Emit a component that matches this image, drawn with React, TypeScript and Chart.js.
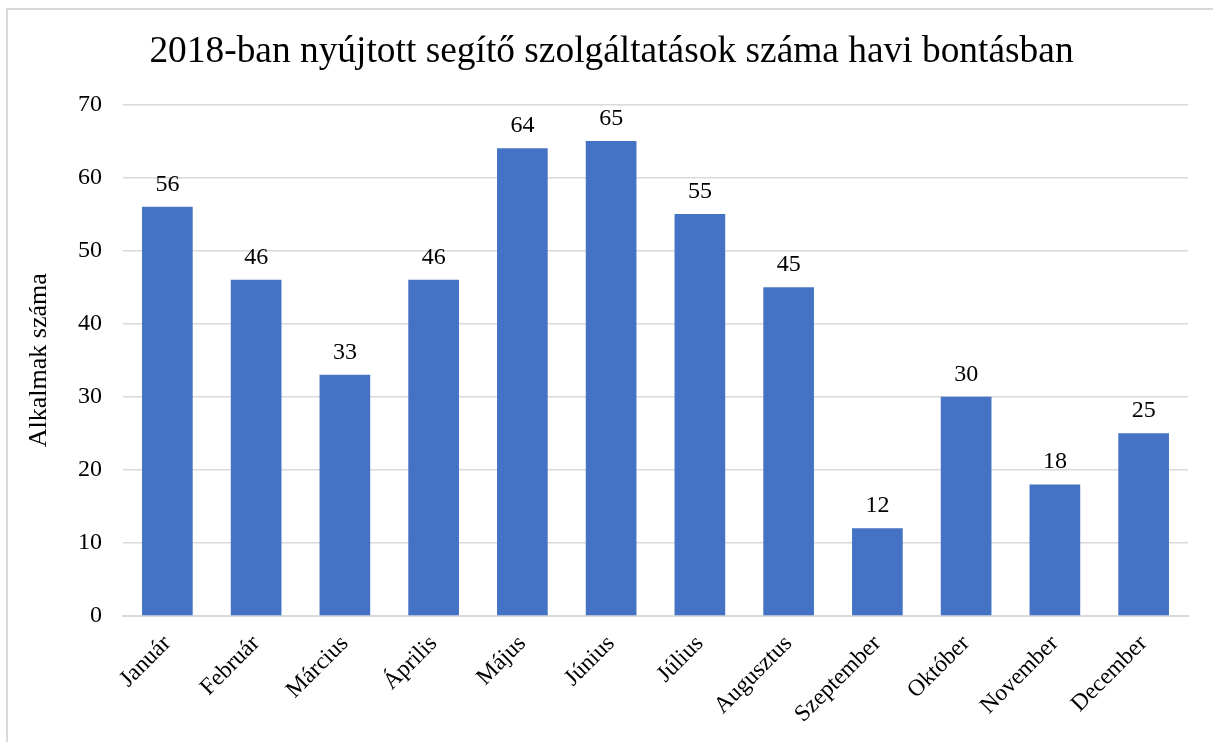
import React, { useEffect, useRef } from "react";
import { Chart, registerables } from "chart.js";

Chart.register(...registerables);

const TITLE = "2018-ban nyújtott segítő szolgáltatások száma havi bontásban";
const Y_TITLE = "Alkalmak száma";
const MONTHS = [
  "Január",
  "Február",
  "Március",
  "Április",
  "Május",
  "Június",
  "Július",
  "Augusztus",
  "Szeptember",
  "Október",
  "November",
  "December",
];
const COUNTS = [56, 46, 33, 46, 64, 65, 55, 45, 12, 30, 18, 25];
const Y_MIN = 0;
const Y_MAX = 70;
const Y_STEP = 10;

const FONT = "'Liberation Serif', 'Times New Roman', serif";
const BAR_COLOR = "#4472c4";
const GRID_COLOR = "#d9d9d9";

const valueLabels = {
  id: "valueLabels",
  afterDatasetsDraw(chart: any) {
    const ctx = chart.ctx;
    const meta = chart.getDatasetMeta(0);
    const data = chart.data.datasets[0].data;
    ctx.save();
    ctx.font = `24px ${FONT}`;
    ctx.fillStyle = "#000";
    ctx.textAlign = "center";
    ctx.textBaseline = "alphabetic";
    meta.data.forEach((bar: any, i: number) => {
      ctx.fillText(String(data[i]), bar.x, bar.y - 16);
    });
    ctx.restore();
  },
};

export default function App() {
  const ref = useRef<HTMLCanvasElement | null>(null);

  useEffect(() => {
    if (!ref.current) return;
    const chart = new Chart(ref.current, {
      type: "bar",
      data: {
        labels: MONTHS,
        datasets: [
          {
            data: COUNTS,
            backgroundColor: BAR_COLOR,
            barPercentage: 0.571,
            categoryPercentage: 1,
          },
        ],
      },
      plugins: [valueLabels],
      options: {
        responsive: false,
        animation: false,
        devicePixelRatio: 1,
        layout: { padding: { left: 35, right: 25, top: 0, bottom: 0 } },
        plugins: {
          legend: { display: false },
          tooltip: { enabled: false },
          title: {
            display: true,
            text: TITLE,
            color: "#000",
            font: { family: FONT, size: 37.4, weight: "normal", lineHeight: 1.2 },
            padding: { top: 30, bottom: 29.6 },
          },
        },
        scales: {
          x: {
            afterFit: (s: any) => {
              s.height = 126;
            },
            grid: { display: false, drawTicks: false },
            border: { display: true, color: GRID_COLOR, width: 2 },
            ticks: {
              color: "#000",
              font: { family: FONT, size: 23.5 },
              minRotation: 45,
              maxRotation: 45,
              padding: 14,
              autoSkip: false,
            },
          },
          y: {
            min: Y_MIN,
            max: Y_MAX,
            afterFit: (s: any) => {
              s.width = 88;
            },
            grid: { color: GRID_COLOR, lineWidth: 1.5, drawTicks: false },
            border: { display: false },
            ticks: {
              stepSize: Y_STEP,
              color: "#000",
              font: { family: FONT, size: 24 },
              padding: 21,
            },
            title: {
              display: true,
              text: Y_TITLE,
              color: "#000",
              font: { family: FONT, size: 26 },
              padding: { top: -11, bottom: 0 },
            },
          },
        },
      },
    });
    return () => chart.destroy();
  }, []);

  return (
    <div
      style={{
        position: "fixed",
        left: 0,
        top: 0,
        width: 1213,
        height: 742,
        overflow: "hidden",
        background: "#fff",
      }}
    >
      <div
        style={{
          position: "absolute",
          left: 6,
          top: 8,
          width: 1300,
          height: 800,
          border: `2px solid ${GRID_COLOR}`,
        }}
      />
      <canvas
        ref={ref}
        width={1213}
        height={742}
        style={{ position: "absolute", left: 0, top: 0 }}
      />
    </div>
  );
}
